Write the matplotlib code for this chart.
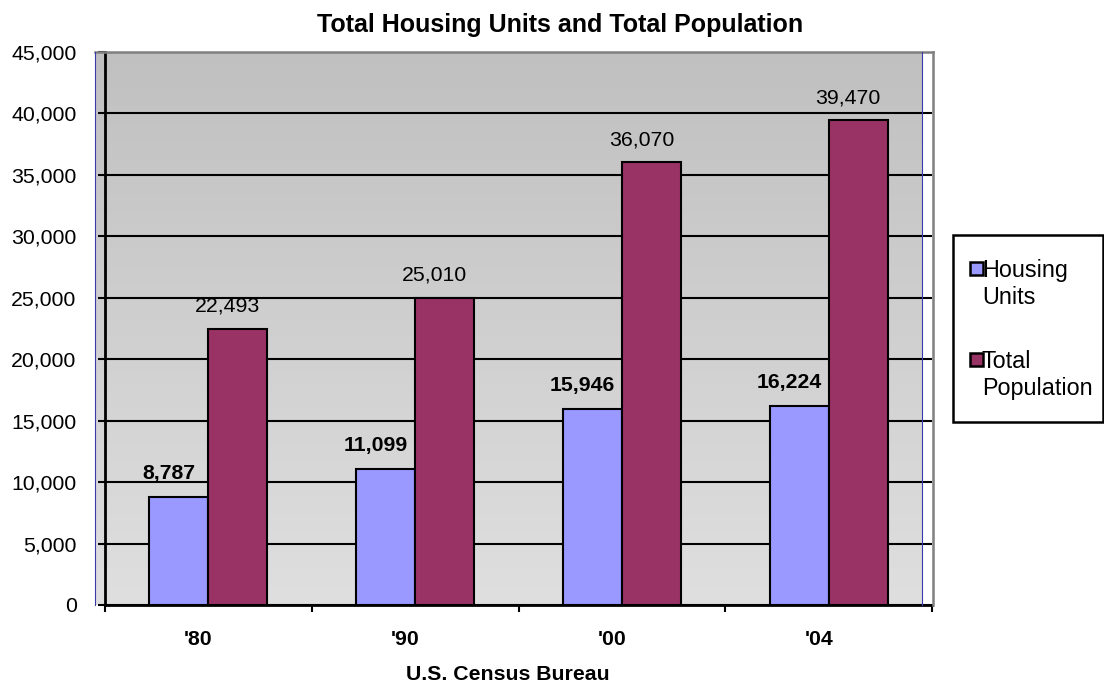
import matplotlib
matplotlib.use("Agg")
import matplotlib.pyplot as plt
import numpy as np
from matplotlib.lines import Line2D
from matplotlib.patches import Rectangle
from matplotlib import transforms as mtrans

plt.rcParams['font.family'] = ['Liberation Sans', 'DejaVu Sans']

# ---- data ----
years = ["'80", "'90", "'00", "'04"]
housing_units = [8787, 11099, 15946, 16224]
total_population = [22493, 25010, 36070, 39470]
series_names = [["Housing", "Units"], ["Total", "Population"]]
title = "Total Housing Units and Total Population"
source = "U.S. Census Bureau"
y_ticks = list(range(0, 45001, 5000))

# ---- styling ----
W, H = 1104, 682
FS = 15.3
FS_TITLE = 18
FS_LEG = 16.8
c_housing = "#9999FF"
c_pop = "#993366"


def fx(x):
    return x / W


def fy(y):
    return 1 - y / H


fig = plt.figure(figsize=(W / 100, H / 100), dpi=100)

# plot-area background with a vertical grey gradient
bg = fig.add_axes([fx(95), fy(605), fx(922) - fx(95), fy(52) - fy(605)], zorder=0)
grad = np.linspace(0, 1, 256).reshape(-1, 1)
top_c = np.array([192, 192, 192]) / 255
bot_c = np.array([223, 223, 223]) / 255
img = top_c[None, None, :] * (1 - grad[:, :, None]) + bot_c[None, None, :] * grad[:, :, None]
bg.imshow(img, aspect="auto", extent=[0, 1, 0, 1], origin="upper")
bg.set_axis_off()

ax = fig.add_axes([fx(105), fy(605), fx(932) - fx(105), fy(52) - fy(605)], zorder=1)
ax.patch.set_visible(False)

x = np.arange(len(years))
bw = 0.285
ax.bar(x - bw / 2, housing_units, bw, color=c_housing, edgecolor="black",
       linewidth=1.5, zorder=3)
ax.bar(x + bw / 2, total_population, bw, color=c_pop, edgecolor="black",
       linewidth=1.5, zorder=3)

ax.set_xlim(-0.5, len(years) - 0.5)
ax.set_ylim(0, 45000)
ax.set_yticks(y_ticks)
ax.set_yticklabels([f"{v:,}" for v in y_ticks], fontsize=FS)
ax.set_xticks(np.arange(len(years) + 1) - 0.5)
ax.set_xticklabels([])
ax.tick_params(axis="y", length=5, width=1.5, pad=15.5, direction="out")
ax.tick_params(axis="x", length=5, width=1.5, direction="out")
ax.grid(axis="y", color="black", linewidth=1.5, zorder=1)
ax.set_axisbelow(True)
for s in ["top", "right"]:
    ax.spines[s].set_visible(False)
for s in ["left", "bottom"]:
    ax.spines[s].set_linewidth(2)
    ax.spines[s].set_zorder(4)

shift = mtrans.ScaledTranslation(-10 / 100, 0, fig.dpi_scale_trans)

# category labels
cat_tr = mtrans.blended_transform_factory(ax.transData, fig.transFigure) + shift
for i, lab in enumerate(years):
    ax.text(i, fy(645), lab, transform=cat_tr, ha="center", va="baseline",
            fontsize=FS, fontweight="bold")

# value labels
for i in range(len(years)):
    ax.annotate(f"{housing_units[i]:,}", (x[i] - bw / 2, housing_units[i]),
                xytext=(-7.2, 13), textcoords="offset points", ha="center",
                va="baseline", fontsize=FS, fontweight="bold", zorder=5)
    ax.annotate(f"{total_population[i]:,}", (x[i] + bw / 2, total_population[i]),
                xytext=(-7.2, 12), textcoords="offset points", ha="center",
                va="baseline", fontsize=FS, zorder=5)

# frame details around the plot area
fig.add_artist(Line2D([fx(95), fx(933)], [fy(52), fy(52)], color="#808080", linewidth=1.8))
fig.add_artist(Line2D([fx(933), fx(933)], [fy(52), fy(605)], color="#808080", linewidth=1.8))
for xx in (95, 922):
    fig.add_artist(Line2D([fx(xx), fx(xx)], [fy(52), fy(605)], color="#3a3aa8", linewidth=0.8))

# title and source
fig.text(fx(560), fy(32), title, ha="center", va="baseline", fontsize=FS_TITLE, fontweight="bold")
fig.text(fx(508), fy(680), source, ha="center", va="baseline", fontsize=FS, fontweight="bold")

# legend
fig.add_artist(Rectangle((fx(953), fy(422)), fx(1103) - fx(953), fy(235) - fy(422),
                         transform=fig.transFigure, facecolor="white", edgecolor="black",
                         linewidth=1.8))
for (name_lines, col, ytop, base) in [(series_names[0], c_housing, 262, 277),
                                      (series_names[1], c_pop, 353, 367.5)]:
    fig.add_artist(Rectangle((fx(970), fy(ytop + 13)), fx(983) - fx(970), fy(ytop) - fy(ytop + 13),
                             transform=fig.transFigure, facecolor=col, edgecolor="black",
                             linewidth=1.8))
    for k, line in enumerate(name_lines):
        fig.text(fx(982), fy(base + 27 * k), line, ha="left", va="baseline", fontsize=FS_LEG)

fig.savefig("out.png", dpi=100)
